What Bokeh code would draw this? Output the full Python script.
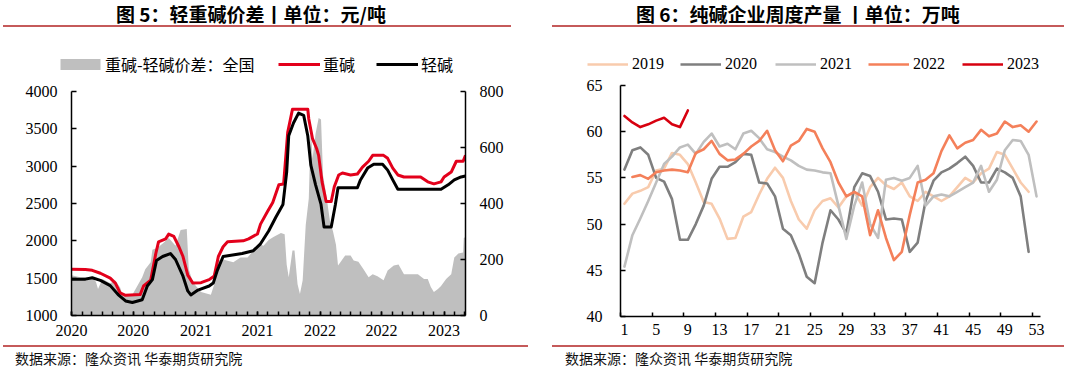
import pandas as pd
from bokeh.plotting import figure
from bokeh.models import (Range1d, LinearAxis, FixedTicker, DatetimeTickFormatter,
                          Legend, LegendItem, Div, ColumnDataSource)
from bokeh.layouts import column, row
from bokeh.embed import file_html
from bokeh.resources import INLINE

# ---------------- data: left chart ----------------
heavy_dates = ["2020-01-01","2020-02-11","2020-03-02","2020-03-26","2020-04-24","2020-05-09","2020-05-23","2020-06-08",
               "2020-07-21","2020-07-31","2020-08-21","2020-09-05","2020-09-13","2020-10-04","2020-10-13","2020-10-28",
               "2020-11-12","2020-11-24","2020-12-08","2020-12-23","2021-01-16","2021-02-09","2021-02-24","2021-03-08",
               "2021-03-22","2021-04-04","2021-05-20","2021-06-05","2021-07-01","2021-07-10","2021-07-31","2021-08-15",
               "2021-09-02","2021-09-16","2021-09-28","2021-10-12","2021-11-26","2021-11-29","2021-12-10","2021-12-22",
               "2021-12-28","2022-01-07","2022-01-19","2022-02-03","2022-02-12","2022-02-25","2022-03-08","2022-04-01",
               "2022-04-21","2022-05-06","2022-05-24","2022-06-05","2022-07-07","2022-07-19","2022-08-03","2022-08-18",
               "2022-09-05","2022-10-24","2022-11-14","2022-12-02","2022-12-23","2023-01-01","2023-01-22","2023-02-06",
               "2023-02-26","2023-03-05"]
heavy_price = [1618,1615,1605,1566,1500,1434,1303,1270,1280,1395,1474,1830,1987,2026,2090,2060,
               1921,1790,1540,1434,1440,1480,1530,1790,1921,1987,2000,2026,2092,2224,2395,2513,
               2750,2760,3452,3763,3763,3632,3368,3237,3145,2790,2526,2526,2724,2882,2908,2882,
               2895,2987,3066,3145,3145,3105,2974,2882,2855,2855,2790,2763,2790,2855,2921,3066,
               3066,3145]

light_dates = ["2020-01-01","2020-02-11","2020-03-02","2020-03-26","2020-04-24","2020-05-17","2020-06-08","2020-06-28",
               "2020-07-27","2020-08-11","2020-08-26","2020-09-07","2020-09-25","2020-10-18","2020-11-02","2020-11-24",
               "2020-12-08","2020-12-17","2021-01-07","2021-02-09","2021-02-21","2021-03-05","2021-03-22","2021-05-17",
               "2021-06-19","2021-07-10","2021-08-03","2021-08-24","2021-09-14","2021-09-25","2021-10-01","2021-10-15",
               "2021-10-30","2021-11-14","2021-11-26","2021-12-05","2021-12-19","2022-01-04","2022-01-13","2022-02-03",
               "2022-02-15","2022-02-23","2022-04-21","2022-04-30","2022-05-21","2022-06-08","2022-07-04","2022-07-19",
               "2022-08-03","2022-08-18","2022-12-23","2023-01-13","2023-01-31","2023-02-20","2023-03-05"]
light_price = [1487,1487,1505,1470,1400,1280,1195,1175,1210,1395,1480,1737,1790,1830,1750,1526,
               1329,1276,1340,1395,1434,1605,1790,1830,1868,1960,2132,2316,2487,2921,3408,3579,
               3710,3680,3408,3013,2750,2487,2184,2184,2480,2711,2711,2816,2974,3026,3026,2947,
               2816,2690,2690,2750,2816,2855,2868]

spread_dates = ["2020-01-01","2020-01-27","2020-03-02","2020-03-13","2020-03-19","2020-04-01","2020-04-24","2020-05-09",
                "2020-05-23","2020-05-30","2020-06-28","2020-07-27","2020-08-05","2020-08-21","2020-08-26","2020-09-10",
                "2020-09-28","2020-10-13","2020-11-02","2020-11-17","2020-12-05","2020-12-11","2020-12-23","2021-01-16",
                "2021-02-14","2021-02-24","2021-03-05","2021-03-22","2021-04-21","2021-05-12","2021-06-02","2021-06-19",
                "2021-07-10","2021-07-19","2021-08-03","2021-08-17","2021-09-08","2021-09-19","2021-09-25","2021-10-01",
                "2021-10-12","2021-10-18","2021-10-27","2021-11-03","2021-11-11","2021-11-20","2021-11-29","2021-12-05",
                "2021-12-10","2021-12-19","2021-12-28","2022-01-04","2022-01-10","2022-01-19","2022-01-31","2022-02-08",
                "2022-02-17","2022-02-23","2022-03-02","2022-03-16","2022-04-01","2022-04-10","2022-04-24","2022-05-09",
                "2022-05-24","2022-06-05","2022-06-19","2022-07-07","2022-07-19","2022-08-06","2022-08-20","2022-09-05",
                "2022-10-16","2022-11-03","2022-11-14","2022-11-23","2022-12-02","2022-12-14","2022-12-23","2023-01-07",
                "2023-01-22","2023-01-31","2023-02-12","2023-02-26","2023-02-28","2023-03-05"]
spread_value = [144,137,137,120,95,130,115,125,100,74,74,137,165,190,235,242,
                260,277,249,305,309,165,119,84,74,112,196,200,190,207,207,232,
                253,249,270,280,295,290,182,137,232,232,112,77,126,323,418,674,
                560,650,705,700,500,435,330,302,253,179,190,214,214,196,192,165,
                137,147,140,126,161,179,182,147,147,130,130,102,84,95,105,130,
                147,207,221,225,277,280]

year_ticks = ["2020-01-01","2020-07-01","2021-01-01","2021-07-01","2022-01-01","2022-07-01","2023-01-01"]

# ---------------- data: right chart ----------------
weeks_2019 = list(range(1, 53))
prod_2019 = [52.2,53.3,53.6,54.0,55.8,56.0,57.7,57.5,56.5,54.5,52.4,52.2,50.6,48.4,48.5,50.8,51.3,53.2,54.9,56.1,
             55.0,52.5,50.5,49.5,51.5,52.5,52.8,51.8,53.0,53.5,52.0,54.0,55.0,54.2,53.8,54.5,53.0,52.5,53.5,53.0,
             52.5,53.0,54.0,55.0,54.5,55.5,56.0,57.8,57.5,56.0,54.5,53.5]
weeks_2020 = list(range(1, 53))
prod_2020 = [55.9,58.0,58.3,57.5,55.0,54.6,52.7,48.3,48.3,50.0,52.0,54.9,56.2,56.2,56.7,57.6,57.5,54.5,54.4,53.0,
             49.5,48.8,46.8,44.3,43.6,48.0,51.5,50.5,49.0,54.0,55.5,55.2,53.5,50.5,50.6,50.5,47.0,48.0,52.5,54.7,
             55.6,56.0,56.6,57.3,56.3,54.5,54.5,56.0,55.6,55.0,53.0,47.0]
weeks_2021 = list(range(1, 54))
prod_2021 = [45.4,48.8,50.6,52.5,54.5,56.5,57.3,58.3,58.6,57.6,58.9,59.8,58.4,58.7,58.1,59.8,60.1,59.3,58.1,57.8,
             57.3,56.9,56.3,55.9,55.8,55.6,55.5,52.0,48.4,52.0,54.5,50.0,48.5,54.8,55.0,54.7,55.0,56.3,52.0,53.0,
             53.2,53.0,53.5,54.0,54.5,56.3,53.5,54.8,58.0,59.1,59.0,57.5,53.0]
weeks_2022 = list(range(2, 54))
prod_2022 = [55.1,55.3,54.9,55.6,55.8,55.9,55.8,55.6,57.7,58.1,59.0,57.6,56.9,57.0,57.6,58.4,59.0,60.1,58.0,56.8,
             58.5,59.0,60.3,60.0,58.2,56.7,54.5,53.0,53.5,53.0,48.8,51.5,48.5,46.1,47.0,51.0,54.5,54.8,55.5,57.9,
             59.6,58.2,58.8,59.1,60.2,59.5,59.8,61.1,60.5,60.7,60.0,61.1]
weeks_2023 = list(range(1, 10))
prod_2023 = [61.7,61.0,60.5,60.8,61.2,61.5,60.8,60.5,62.3]

week_labels = list(range(1, 54, 4))

# ---------------- styles ----------------
SERIF = "Liberation Serif"
CJK = "Noto Sans CJK SC"
RULE = "#C55A5A"
C_SPREAD, C_HEAVY, C_LIGHT = "#BFBFBF", "#E3001B", "#000000"
YEAR_COLORS = {"2019": "#F8CBAD", "2020": "#7F7F7F", "2021": "#BFBFBF", "2022": "#F4805A", "2023": "#D7000F"}
WL, WR = 540, 524          # column widths


def style_axis(ax, size="16px"):
    ax.axis_line_color = "black"
    ax.axis_line_width = 1.5
    ax.major_tick_line_color = "black"
    ax.major_tick_line_width = 1.5
    ax.minor_tick_line_color = "black"
    ax.minor_tick_line_width = 1.5
    ax.major_tick_in = 5
    ax.major_tick_out = 0
    ax.minor_tick_in = 0
    ax.minor_tick_out = 0
    ax.major_label_text_font = SERIF
    ax.major_label_text_font_size = size
    ax.major_label_text_color = "black"


def strip(width, height, left, top, x_range, y_range):
    # a figure that only carries one legend entry; its renderer shares the chart's data
    # but falls outside the strip's ranges, so only the legend shows
    f = figure(width=width, height=height, output_backend="svg", toolbar_location=None,
               x_range=x_range, y_range=y_range, x_axis_type=None, y_axis_type=None,
               min_border_left=left, min_border_top=top, min_border_right=0, min_border_bottom=0)
    f.outline_line_color = None
    f.xgrid.visible = False
    f.ygrid.visible = False
    return f


def add_entry(f, label, rend, font, gw, gh, lh, standoff):
    f.add_layout(Legend(items=[LegendItem(label=label, renderers=[rend])], location="top_left",
                        orientation="horizontal", label_text_font=font, label_text_font_size="16px",
                        label_text_color="black", glyph_width=gw, glyph_height=gh, label_height=lh,
                        label_standoff=standoff, spacing=0, padding=0, margin=0,
                        border_line_color=None, background_fill_alpha=0))


# ---------------- left figure ----------------
x0 = pd.Timestamp("2020-01-01")
x1 = pd.Timestamp("2023-03-05")
pL = figure(width=WL, height=264, output_backend="svg", toolbar_location=None,
            x_axis_type="datetime", x_range=Range1d(x0, x1), y_range=Range1d(1000, 4000),
            min_border_left=71, min_border_right=75, min_border_top=10, min_border_bottom=30)
pL.extra_y_ranges = {"spread": Range1d(0, 800)}
pL.outline_line_color = None
pL.xgrid.visible = False
pL.ygrid.visible = False

src_s = ColumnDataSource(dict(x=pd.to_datetime(spread_dates), y=spread_value))
src_h = ColumnDataSource(dict(x=pd.to_datetime(heavy_dates), y=heavy_price))
src_l = ColumnDataSource(dict(x=pd.to_datetime(light_dates), y=light_price))

pL.varea(x="x", y1=0, y2="y", source=src_s, y_range_name="spread", fill_color=C_SPREAD)
pL.line("x", "y", source=src_h, line_color=C_HEAVY, line_width=3, line_join="round")
pL.line("x", "y", source=src_l, line_color=C_LIGHT, line_width=3, line_join="round")

pL.yaxis.ticker = FixedTicker(ticks=list(range(1000, 4001, 500)))
style_axis(pL.yaxis[0])
pL.yaxis.major_label_standoff = 14

ax_r = LinearAxis(y_range_name="spread", ticker=FixedTicker(ticks=[0, 200, 400, 600, 800]))
style_axis(ax_r)
ax_r.major_label_standoff = 14
pL.add_layout(ax_r, "right")

month_starts = pd.date_range("2020-01-01", "2023-03-01", freq="MS")
xt = pL.xaxis[0]
xt.ticker = FixedTicker(ticks=[pd.Timestamp(d).value / 1e6 for d in year_ticks],
                        minor_ticks=[d.value / 1e6 for d in month_starts])
fmt = "%Y"
xt.formatter = DatetimeTickFormatter(microseconds=fmt, milliseconds=fmt, seconds=fmt, minsec=fmt,
                                     minutes=fmt, hourmin=fmt, hours=fmt, days=fmt, months=fmt, years=fmt)
style_axis(xt)
xt.major_tick_in = 4
xt.minor_tick_in = 4
xt.major_label_standoff = 9

# legend entries for the left chart, one strip per entry
lgA = strip(262, 53, 55, 24, Range1d(0, 1), Range1d(-2, -1))
add_entry(lgA, "重碱-轻碱价差：全国", lgA.varea(x="x", y1=0, y2="y", source=src_s, fill_color=C_SPREAD),
          CJK, 50, 14, 22, 0)
lgB = strip(108, 53, 16, 24, Range1d(0, 1), Range1d(-2, -1))
add_entry(lgB, "重碱", lgB.line("x", "y", source=src_h, line_color=C_HEAVY, line_width=3),
          CJK, 42, 12, 22, 3)
lgC = strip(WL - 262 - 108, 53, 6, 24, Range1d(0, 1), Range1d(-2, -1))
add_entry(lgC, "轻碱", lgC.line("x", "y", source=src_l, line_color=C_LIGHT, line_width=3),
          CJK, 42, 12, 22, 3)

# ---------------- right figure ----------------
pR = figure(width=WR, height=270, output_backend="svg", toolbar_location=None,
            x_range=Range1d(0.5, 53.5), y_range=Range1d(40, 65),
            min_border_left=80, min_border_right=24, min_border_top=10, min_border_bottom=29)
pR.outline_line_color = None
pR.xgrid.visible = False
pR.ygrid.visible = False

series = [("2019", weeks_2019, prod_2019),
          ("2020", weeks_2020, prod_2020),
          ("2021", weeks_2021, prod_2021),
          ("2022", weeks_2022, prod_2022),
          ("2023", weeks_2023, prod_2023)]
for name, wk, vals in series:
    pR.line(wk, vals, line_color=YEAR_COLORS[name], line_width=2.6, line_join="round", line_cap="round")

pR.yaxis.ticker = FixedTicker(ticks=[40, 45, 50, 55, 60, 65])
style_axis(pR.yaxis[0])
pR.yaxis.major_label_standoff = 18

xb = pR.xaxis[0]
xb.ticker = FixedTicker(ticks=[0.5 + 4 * k for k in range(14)])
style_axis(xb)
xb.major_tick_in = 4
xb.major_label_text_font_size = "1px"
xb.major_label_text_alpha = 0
xb.major_label_standoff = 0

xl = LinearAxis(ticker=FixedTicker(ticks=week_labels))
style_axis(xl)
xl.axis_line_color = None
xl.major_tick_in = 0
xl.major_label_standoff = 7
pR.add_layout(xl, "below")

# legend entries for the right chart, one strip per year
strip_widths = [135, 95, 93, 94, WR - 135 - 95 - 93 - 94]
strip_lefts = [47, 5, 5, 5, 5]
rstrips = []
for (name, wk, vals), w, lft in zip(series, strip_widths, strip_lefts):
    f = strip(w, 47, lft, 26, Range1d(-2, -1), Range1d(-2, -1))
    r = f.line(wk, vals, line_color=YEAR_COLORS[name], line_width=2.6)
    add_entry(f, name, r, SERIF, 41, 12, 20, 4)
    rstrips.append(f)

# ---------------- titles and sources ----------------
def head(title, width, left, rule_left, rule_width):
    html = (f'<div style="position:relative;width:{width}px;height:28px;">'
            f'<div style="position:absolute;left:{left}px;top:0px;font-family:\'{CJK}\';font-weight:bold;'
            f'font-size:19px;white-space:nowrap;color:#000;">{title}</div>'
            f'<div style="position:absolute;left:{rule_left}px;top:25px;width:{rule_width}px;height:2px;'
            f'background:{RULE};"></div></div>')
    return Div(text=html, width=width, height=28, margin=0)


def foot(text, width, left, rule_left, rule_width):
    html = (f'<div style="position:relative;width:{width}px;height:24px;">'
            f'<div style="position:absolute;left:{rule_left}px;top:0px;width:{rule_width}px;height:2px;'
            f'background:{RULE};"></div>'
            f'<div style="position:absolute;left:{left}px;top:3px;font-family:\'{CJK}\';'
            f'font-size:14px;white-space:nowrap;color:#111;">{text}</div></div>')
    return Div(text=html, width=width, height=24, margin=0)


src_text = "数据来源：隆众资讯 华泰期货研究院"
hL = head("图 5：轻重碱价差丨单位：元/吨", WL, 116, 3, 508)
hR = head("图 6：纯碱企业周度产量 丨单位：万吨", WR, 96, 12, WR - 12)
fL = foot(src_text, WL, 15, 3, 525)
fR = foot(src_text, WR, 25, 12, WR - 12)

colL = column(hL, row(lgA, lgB, lgC, spacing=0), pL, fL, spacing=0)
colR = column(hR, row(*rstrips, spacing=0), pR, fR, spacing=0)
layout = row(colL, colR, spacing=0)

open("out.html", "w").write(file_html(layout, INLINE))
